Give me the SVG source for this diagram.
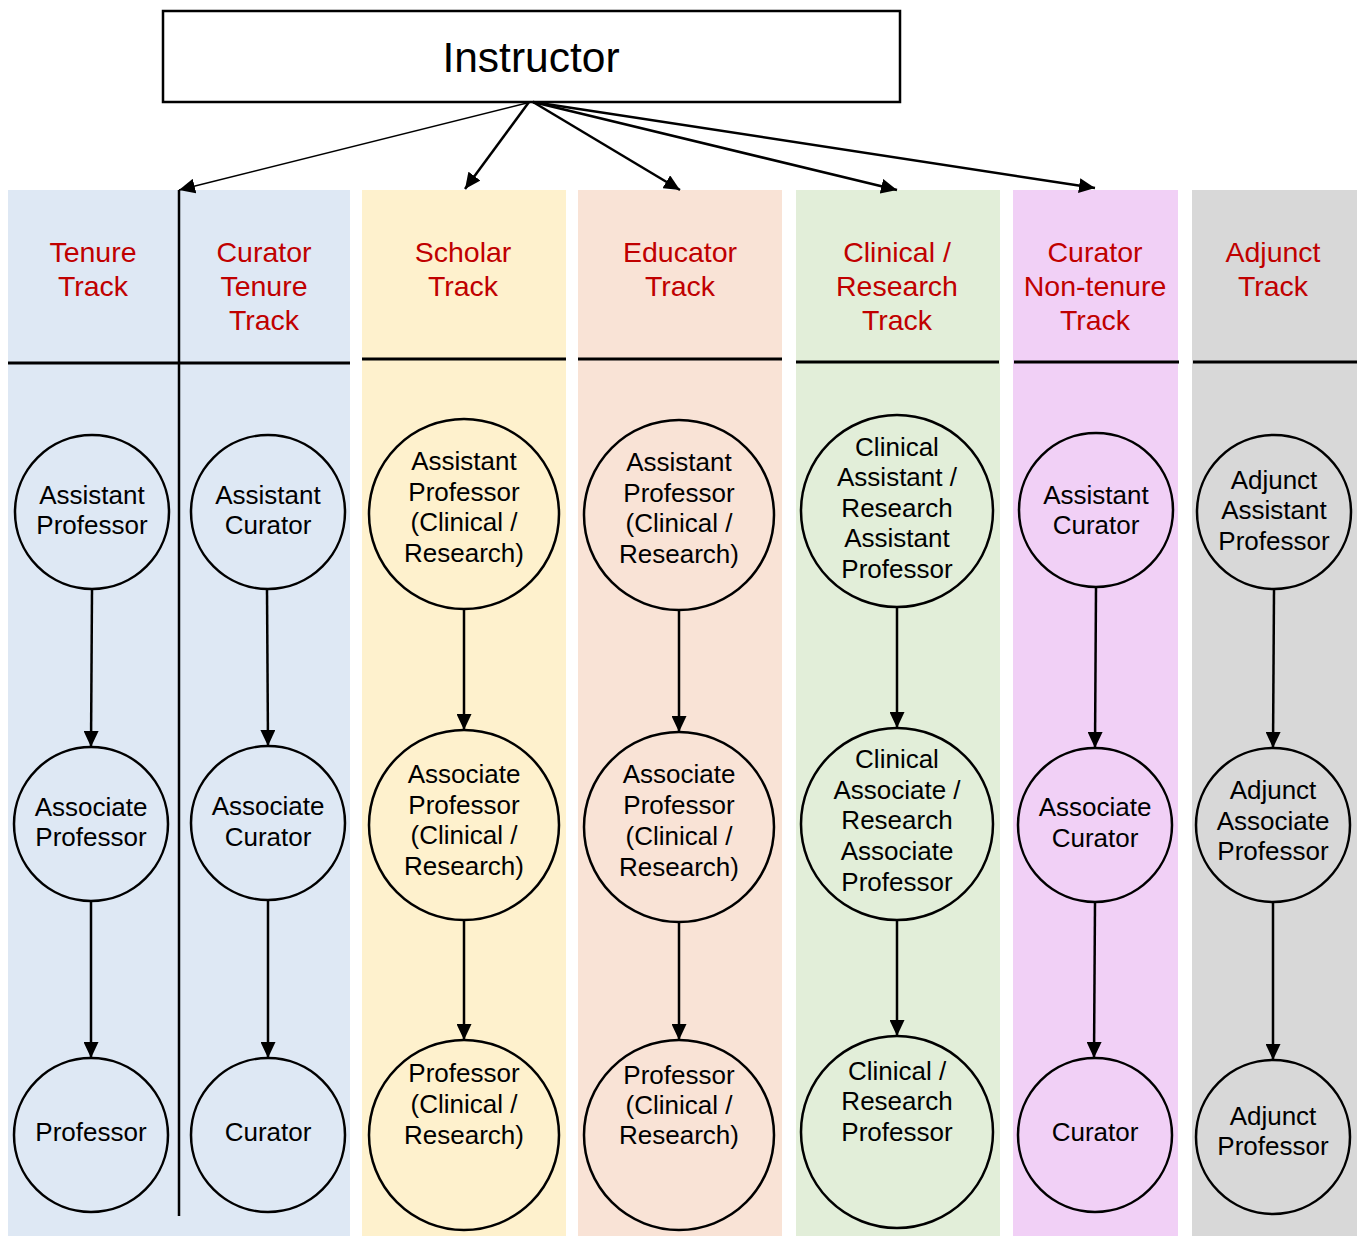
<svg xmlns="http://www.w3.org/2000/svg" width="1357" height="1236" viewBox="0 0 1357 1236">
<style>
.lane{stroke:none}
.hdr{font-family:"Liberation Sans",Arial,sans-serif;font-size:28.5px;fill:#c00000;text-anchor:middle}
.node circle{stroke:#000;stroke-width:2.5}
.lbl{font-family:"Liberation Sans",Arial,sans-serif;font-size:26px;fill:#000;text-anchor:middle}
.sep{stroke:#000;stroke-width:3}
.conn line{stroke:#000;stroke-width:2.5;fill:none}
</style>
<defs>
<marker id="ah" markerUnits="userSpaceOnUse" markerWidth="17" markerHeight="15" refX="16" refY="7.5" orient="auto">
<path d="M0,0 L16,7.5 L0,15 z" fill="#000"/>
</marker>
</defs>
<rect width="1357" height="1236" fill="#fff"/>
<g id="lanes">
<rect class="lane" x="8" y="190" width="342" height="1046" fill="#dee8f4"/>
<rect class="lane" x="362" y="190" width="204" height="1046" fill="#fef1cd"/>
<rect class="lane" x="578" y="190" width="204" height="1046" fill="#f9e3d6"/>
<rect class="lane" x="796" y="190" width="204" height="1046" fill="#e2eed9"/>
<rect class="lane" x="1013" y="190" width="165" height="1046" fill="#f1d0f6"/>
<rect class="lane" x="1192" y="190" width="165" height="1046" fill="#d8d8d8"/>
<line class="sep" x1="8" y1="363" x2="350" y2="363"/>
<line class="sep" x1="362" y1="359" x2="566" y2="359"/>
<line class="sep" x1="578" y1="359" x2="782" y2="359"/>
<line class="sep" x1="796" y1="362" x2="999" y2="362"/>
<line class="sep" x1="1014" y1="362" x2="1179" y2="362"/>
<line class="sep" x1="1193" y1="362" x2="1357" y2="362"/>
<line x1="179" y1="190" x2="179" y2="1216" stroke="#000" stroke-width="2.5"/>
</g>
<g id="headers">
<text class="hdr" x="93" y="262">Tenure</text>
<text class="hdr" x="93" y="296">Track</text>
<text class="hdr" x="264" y="262">Curator</text>
<text class="hdr" x="264" y="296">Tenure</text>
<text class="hdr" x="264" y="330">Track</text>
<text class="hdr" x="463" y="262">Scholar</text>
<text class="hdr" x="463" y="296">Track</text>
<text class="hdr" x="680" y="262">Educator</text>
<text class="hdr" x="680" y="296">Track</text>
<text class="hdr" x="897" y="262">Clinical /</text>
<text class="hdr" x="897" y="296">Research</text>
<text class="hdr" x="897" y="330">Track</text>
<text class="hdr" x="1095" y="262">Curator</text>
<text class="hdr" x="1095" y="296">Non-tenure</text>
<text class="hdr" x="1095" y="330">Track</text>
<text class="hdr" x="1273" y="262">Adjunct</text>
<text class="hdr" x="1273" y="296">Track</text>
</g>
<g id="instructor">
<rect x="163" y="11" width="737" height="91" fill="#fff" stroke="#000" stroke-width="2.5"/>
<text x="531" y="72" font-family="Liberation Sans, Arial, sans-serif" font-size="42.5" text-anchor="middle">Instructor</text>
</g>
<g id="connectors" class="conn">
<line x1="531" y1="102" x2="179" y2="190" marker-end="url(#ah)" style="stroke-width:1.6"/>
<line x1="529" y1="102" x2="465" y2="189" marker-end="url(#ah)"/>
<line x1="533" y1="102" x2="680" y2="190" marker-end="url(#ah)"/>
<line x1="533" y1="102" x2="897" y2="190" marker-end="url(#ah)"/>
<line x1="533" y1="102" x2="1095" y2="188" marker-end="url(#ah)"/>
<line x1="92" y1="590" x2="91" y2="747" marker-end="url(#ah)"/>
<line x1="91" y1="901" x2="91" y2="1058" marker-end="url(#ah)"/>
<line x1="267" y1="590" x2="268" y2="746" marker-end="url(#ah)"/>
<line x1="268" y1="901" x2="268" y2="1058" marker-end="url(#ah)"/>
<line x1="464" y1="609" x2="464" y2="730" marker-end="url(#ah)"/>
<line x1="464" y1="920" x2="464" y2="1040" marker-end="url(#ah)"/>
<line x1="679" y1="610" x2="679" y2="732" marker-end="url(#ah)"/>
<line x1="679" y1="922" x2="679" y2="1040" marker-end="url(#ah)"/>
<line x1="897" y1="607" x2="897" y2="728" marker-end="url(#ah)"/>
<line x1="897" y1="920" x2="897" y2="1036" marker-end="url(#ah)"/>
<line x1="1096" y1="587" x2="1095" y2="748" marker-end="url(#ah)"/>
<line x1="1095" y1="902" x2="1094" y2="1058" marker-end="url(#ah)"/>
<line x1="1274" y1="590" x2="1273" y2="748" marker-end="url(#ah)"/>
<line x1="1273" y1="902" x2="1273" y2="1060" marker-end="url(#ah)"/>
</g>
<g id="tenure-asst" class="node"><circle cx="92" cy="512" r="77" fill="#dee8f4"/><text class="lbl"><tspan x="92" y="504">Assistant</tspan><tspan x="92" y="534">Professor</tspan></text></g>
<g id="tenure-assoc" class="node"><circle cx="91" cy="824" r="77" fill="#dee8f4"/><text class="lbl"><tspan x="91" y="816">Associate</tspan><tspan x="91" y="846">Professor</tspan></text></g>
<g id="tenure-prof" class="node"><circle cx="91" cy="1135" r="77" fill="#dee8f4"/><text class="lbl"><tspan x="91" y="1141">Professor</tspan></text></g>
<g id="ct-asst" class="node"><circle cx="268" cy="512" r="77" fill="#dee8f4"/><text class="lbl"><tspan x="268" y="504">Assistant</tspan><tspan x="268" y="534">Curator</tspan></text></g>
<g id="ct-assoc" class="node"><circle cx="268" cy="823" r="77" fill="#dee8f4"/><text class="lbl"><tspan x="268" y="815">Associate</tspan><tspan x="268" y="846">Curator</tspan></text></g>
<g id="ct-cur" class="node"><circle cx="268" cy="1135" r="77" fill="#dee8f4"/><text class="lbl"><tspan x="268" y="1141">Curator</tspan></text></g>
<g id="sch-asst" class="node"><circle cx="464" cy="514" r="95" fill="#fef1cd"/><text class="lbl"><tspan x="464" y="470">Assistant</tspan><tspan x="464" y="501">Professor</tspan><tspan x="464" y="531">(Clinical /</tspan><tspan x="464" y="562">Research)</tspan></text></g>
<g id="sch-assoc" class="node"><circle cx="464" cy="825" r="95" fill="#fef1cd"/><text class="lbl"><tspan x="464" y="783">Associate</tspan><tspan x="464" y="814">Professor</tspan><tspan x="464" y="844">(Clinical /</tspan><tspan x="464" y="875">Research)</tspan></text></g>
<g id="sch-prof" class="node"><circle cx="464" cy="1135" r="95" fill="#fef1cd"/><text class="lbl"><tspan x="464" y="1082">Professor</tspan><tspan x="464" y="1113">(Clinical /</tspan><tspan x="464" y="1144">Research)</tspan></text></g>
<g id="edu-asst" class="node"><circle cx="679" cy="515" r="95" fill="#f9e3d6"/><text class="lbl"><tspan x="679" y="471">Assistant</tspan><tspan x="679" y="502">Professor</tspan><tspan x="679" y="532">(Clinical /</tspan><tspan x="679" y="563">Research)</tspan></text></g>
<g id="edu-assoc" class="node"><circle cx="679" cy="827" r="95" fill="#f9e3d6"/><text class="lbl"><tspan x="679" y="783">Associate</tspan><tspan x="679" y="814">Professor</tspan><tspan x="679" y="845">(Clinical /</tspan><tspan x="679" y="876">Research)</tspan></text></g>
<g id="edu-prof" class="node"><circle cx="679" cy="1135" r="95" fill="#f9e3d6"/><text class="lbl"><tspan x="679" y="1084">Professor</tspan><tspan x="679" y="1114">(Clinical /</tspan><tspan x="679" y="1144">Research)</tspan></text></g>
<g id="clin-asst" class="node"><circle cx="897" cy="511" r="96" fill="#e2eed9"/><text class="lbl"><tspan x="897" y="456">Clinical</tspan><tspan x="897" y="486">Assistant /</tspan><tspan x="897" y="517">Research</tspan><tspan x="897" y="547">Assistant</tspan><tspan x="897" y="578">Professor</tspan></text></g>
<g id="clin-assoc" class="node"><circle cx="897" cy="824" r="96" fill="#e2eed9"/><text class="lbl"><tspan x="897" y="768">Clinical</tspan><tspan x="897" y="799">Associate /</tspan><tspan x="897" y="829">Research</tspan><tspan x="897" y="860">Associate</tspan><tspan x="897" y="891">Professor</tspan></text></g>
<g id="clin-prof" class="node"><circle cx="897" cy="1132" r="96" fill="#e2eed9"/><text class="lbl"><tspan x="897" y="1080">Clinical /</tspan><tspan x="897" y="1110">Research</tspan><tspan x="897" y="1141">Professor</tspan></text></g>
<g id="cnt-asst" class="node"><circle cx="1096" cy="510" r="77" fill="#f1d0f6"/><text class="lbl"><tspan x="1096" y="504">Assistant</tspan><tspan x="1096" y="534">Curator</tspan></text></g>
<g id="cnt-assoc" class="node"><circle cx="1095" cy="825" r="77" fill="#f1d0f6"/><text class="lbl"><tspan x="1095" y="816">Associate</tspan><tspan x="1095" y="847">Curator</tspan></text></g>
<g id="cnt-cur" class="node"><circle cx="1095" cy="1135" r="77" fill="#f1d0f6"/><text class="lbl"><tspan x="1095" y="1141">Curator</tspan></text></g>
<g id="adj-asst" class="node"><circle cx="1274" cy="512" r="77" fill="#d8d8d8"/><text class="lbl"><tspan x="1274" y="489">Adjunct</tspan><tspan x="1274" y="519">Assistant</tspan><tspan x="1274" y="550">Professor</tspan></text></g>
<g id="adj-assoc" class="node"><circle cx="1273" cy="825" r="77" fill="#d8d8d8"/><text class="lbl"><tspan x="1273" y="799">Adjunct</tspan><tspan x="1273" y="830">Associate</tspan><tspan x="1273" y="860">Professor</tspan></text></g>
<g id="adj-prof" class="node"><circle cx="1273" cy="1137" r="77" fill="#d8d8d8"/><text class="lbl"><tspan x="1273" y="1125">Adjunct</tspan><tspan x="1273" y="1155">Professor</tspan></text></g>
</svg>
